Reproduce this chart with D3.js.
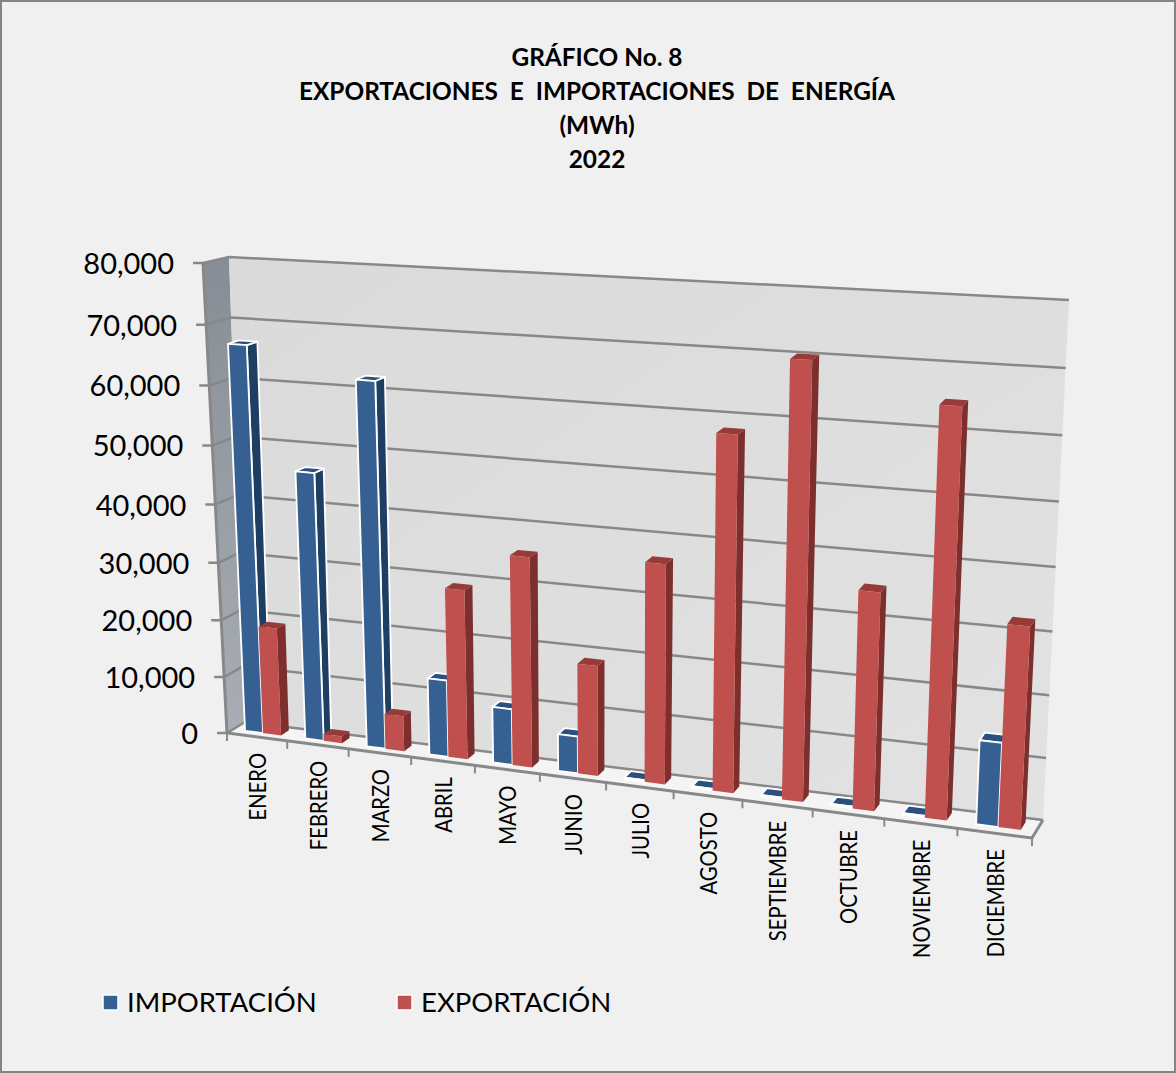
<!DOCTYPE html>
<html>
<head>
<meta charset="utf-8">
<script src="https://cdn.jsdelivr.net/npm/d3@7"></script>
<style>
  html, body { margin: 0; padding: 0; background: #f0f0f0; }
  svg { display: block; }
  text { fill: #000; white-space: pre; }
</style>
</head>
<body>
<div id="chart"></div>
<script>
// Chart data
var titleLines = ["GRÁFICO No. 8", "EXPORTACIONES  E  IMPORTACIONES  DE  ENERGÍA", "(MWh)", "2022"];
var months = ["ENERO", "FEBRERO", "MARZO", "ABRIL", "MAYO", "JUNIO", "JULIO", "AGOSTO", "SEPTIEMBRE", "OCTUBRE", "NOVIEMBRE", "DICIEMBRE"];
var seriesNames = ["IMPORTACIÓN", "EXPORTACIÓN"];
var importacion = [66600, 46200, 62200, 13200, 9600, 6300, 300, 300, 300, 300, 300, 13600];
var exportacion = [18900, 1200, 6100, 28900, 35500, 18600, 36500, 58000, 70200, 35300, 64800, 32300];
var yTicks = [0, 10000, 20000, 30000, 40000, 50000, 60000, 70000, 80000];

// Define SVG area dimensions
var svgWidth = 1176;
var svgHeight = 1073;

var svg = d3.select("#chart")
  .append("svg")
  .attr("width", svgWidth)
  .attr("height", svgHeight);

// Corners of the chart box as seen in the picture: top-left, top-right, bottom-right, bottom-left
var frontQuad = [[203, 263], [1057, 313], [1032, 838], [227, 733]];
var backQuad = [[229, 257], [1069, 300], [1043, 820], [245, 722]];

// Perspective transform from the unit square to a quad
function perspective(q) {
  var sx = q[0][0] - q[1][0] + q[2][0] - q[3][0];
  var sy = q[0][1] - q[1][1] + q[2][1] - q[3][1];
  var dx1 = q[1][0] - q[2][0], dx2 = q[3][0] - q[2][0];
  var dy1 = q[1][1] - q[2][1], dy2 = q[3][1] - q[2][1];
  var den = dx1 * dy2 - dx2 * dy1;
  var g = (sx * dy2 - dx2 * sy) / den;
  var h = (dx1 * sy - sx * dy1) / den;
  var a = q[1][0] - q[0][0] + g * q[1][0];
  var b = q[3][0] - q[0][0] + h * q[3][0];
  var d = q[1][1] - q[0][1] + g * q[1][1];
  var e = q[3][1] - q[0][1] + h * q[3][1];
  return function(u, v) {
    var w = g * u + h * v + 1;
    return [(a * u + b * v + q[0][0]) / w, (d * u + e * v + q[0][1]) / w];
  };
}

var frontPlane = perspective(frontQuad);
var backPlane = perspective(backQuad);

// Create scales for the chart (all in unit box coordinates)
var xScale = d3.scaleBand().domain(months).range([0, 1]);
var seriesScale = d3.scaleBand().domain(seriesNames).range([0.2 * xScale.bandwidth(), 0.8 * xScale.bandwidth()]);
var yScale = d3.scaleLinear().domain([0, 80000]).range([1, 0]);
var colors = d3.scaleOrdinal().domain(seriesNames).range(["#376092", "#c0504d"]);
var sideColors = d3.scaleOrdinal().domain(seriesNames).range(["#1f3e63", "#7d2f2d"]);
var topColors = d3.scaleOrdinal().domain(seriesNames).range(["#2a5080", "#973b38"]);

// u across, value up, depth 0 = front plane, 1 = back wall
function project(u, value, depth) {
  var v = yScale(value);
  var f = frontPlane(u, v), b = backPlane(u, v);
  return [f[0] + (b[0] - f[0]) * depth, f[1] + (b[1] - f[1]) * depth];
}

var polyLine = d3.line();
function poly(points) { return polyLine(points) + "Z"; }

// Background and frame
svg.append("rect")
  .attr("x", 1).attr("y", 1)
  .attr("width", svgWidth - 2).attr("height", svgHeight - 2)
  .attr("fill", "#f0f0f0")
  .attr("stroke", "#848484")
  .attr("stroke-width", 2);

var defs = svg.append("defs");
var wallGrad = defs.append("linearGradient").attr("id", "leftWall")
  .attr("x1", 0).attr("y1", 0).attr("x2", 0).attr("y2", 1);
wallGrad.append("stop").attr("offset", "0").attr("stop-color", "#868d95");
wallGrad.append("stop").attr("offset", "1").attr("stop-color", "#a9aeb4");

var backGrad = defs.append("linearGradient").attr("id", "backWall")
  .attr("x1", 0).attr("y1", 0).attr("x2", 1).attr("y2", 1);
backGrad.append("stop").attr("offset", "0").attr("stop-color", "#dadada");
backGrad.append("stop").attr("offset", "1").attr("stop-color", "#e2e2e2");

// Walls and floor
var box = svg.append("g");
box.append("path")
  .attr("d", poly([project(0, 80000, 0), project(0, 80000, 1), project(0, 0, 1), project(0, 0, 0)]))
  .attr("fill", "url(#leftWall)");
box.append("path")
  .attr("d", poly([project(0, 80000, 1), project(1, 80000, 1), project(1, 0, 1), project(0, 0, 1)]))
  .attr("fill", "url(#backWall)");
box.append("path")
  .attr("d", poly([project(0, 0, 0), project(0, 0, 1), project(1, 0, 1), project(1, 0, 0)]))
  .attr("fill", "#f4f4f4");

// Gridlines along left wall and back wall
var gridColor = "#888888";
box.selectAll(".grid")
  .data(yTicks)
  .enter()
  .append("path")
  .attr("class", "grid")
  .attr("d", function(d) {
    var p = project(0, d, 0);
    return polyLine([[p[0] - 10, p[1]], p, project(0, d, 1), project(1, d, 1)]);
  })
  .attr("fill", "none")
  .attr("stroke", gridColor)
  .attr("stroke-width", 2.5);

// Left front edge and floor edges
box.append("path")
  .attr("d", polyLine([project(0, 80000, 0), project(0, 0, 0), project(1, 0, 0), project(1, 0, 1)]))
  .attr("fill", "none")
  .attr("stroke", gridColor)
  .attr("stroke-width", 3);

// X axis ticks
box.selectAll(".xtick")
  .data(d3.range(months.length + 1))
  .enter()
  .append("path")
  .attr("class", "xtick")
  .attr("d", function(i) {
    var p = project(i / months.length, 0, 0);
    return polyLine([p, [p[0], p[1] + 8]]);
  })
  .attr("fill", "none")
  .attr("stroke", gridColor)
  .attr("stroke-width", 2);

// Add y-axis labels
svg.selectAll(".ylabel")
  .data(yTicks)
  .enter()
  .append("text")
  .attr("class", "ylabel")
  .attr("x", function(d) { return project(0, d, 0)[0] - 29; })
  .attr("y", function(d) { return project(0, d, 0)[1] + 11; })
  .attr("text-anchor", "end")
  .attr("font-family", "Lato")
  .attr("font-size", "29px")
  .text(d3.format(","));

// Add category labels
svg.selectAll(".xlabel")
  .data(months)
  .enter()
  .append("text")
  .attr("class", "xlabel")
  .attr("transform", function(d) {
    var p = project(xScale(d) + xScale.bandwidth() / 2, 0, 0);
    return "translate(" + (p[0] + 9) + "," + (p[1] + 16) + ") rotate(-90) scale(0.88,1)";
  })
  .attr("text-anchor", "end")
  .attr("font-family", "Lato")
  .attr("font-size", "23px")
  .text(function(d) { return d; });

// Bars, left to right and blue before red
var depthFront = 0.34;
var depthBack = 0.78;
var barData = [];
months.forEach(function(m, i) {
  barData.push({ month: m, name: seriesNames[0], value: importacion[i] });
  barData.push({ month: m, name: seriesNames[1], value: exportacion[i] });
});

var bars = svg.selectAll(".bar")
  .data(barData)
  .enter()
  .append("g")
  .attr("class", "bar")
  .attr("stroke", function(d) { return d.name === seriesNames[0] ? "#ffffff" : "none"; })
  .attr("stroke-width", 1.8)
  .attr("stroke-linejoin", "round");

function barLeft(d) { return xScale(d.month) + seriesScale(d.name); }
function barRight(d) { return barLeft(d) + seriesScale.bandwidth(); }

bars.append("path")
  .attr("d", function(d) {
    return poly([project(barRight(d), d.value, depthFront), project(barRight(d), d.value, depthBack),
      project(barRight(d), 0, depthBack), project(barRight(d), 0, depthFront)]);
  })
  .attr("fill", function(d) { return sideColors(d.name); });

bars.append("path")
  .attr("d", function(d) {
    return poly([project(barLeft(d), d.value, depthFront), project(barRight(d), d.value, depthFront),
      project(barRight(d), d.value, depthBack), project(barLeft(d), d.value, depthBack)]);
  })
  .attr("fill", function(d) { return topColors(d.name); });

bars.append("path")
  .attr("d", function(d) {
    return poly([project(barLeft(d), d.value, depthFront), project(barRight(d), d.value, depthFront),
      project(barRight(d), 0, depthFront), project(barLeft(d), 0, depthFront)]);
  })
  .attr("fill", function(d) { return colors(d.name); });

// Title
svg.selectAll(".title")
  .data(titleLines)
  .enter()
  .append("text")
  .attr("class", "title")
  .attr("x", 597)
  .attr("y", function(d, i) { return 66 + i * 34; })
  .attr("text-anchor", "middle")
  .attr("font-family", "Lato")
  .attr("font-weight", "bold")
  .attr("font-size", "24.4px")
  .text(function(d) { return d; });

// Legend
var legendX = d3.scaleOrdinal().domain(seriesNames).range([103, 397]);
var legend = svg.selectAll(".legend")
  .data(seriesNames)
  .enter()
  .append("g")
  .attr("class", "legend")
  .attr("transform", function(d) { return "translate(" + legendX(d) + ",995)"; });

legend.append("rect")
  .attr("width", 15)
  .attr("height", 15)
  .attr("fill", function(d) { return colors(d); })
  .attr("stroke", "#ffffff")
  .attr("stroke-width", 1.5);

legend.append("text")
  .attr("x", 24)
  .attr("y", 17)
  .attr("font-family", "Lato")
  .attr("font-size", "27.5px")
  .text(function(d) { return d; });
</script>
</body>
</html>
